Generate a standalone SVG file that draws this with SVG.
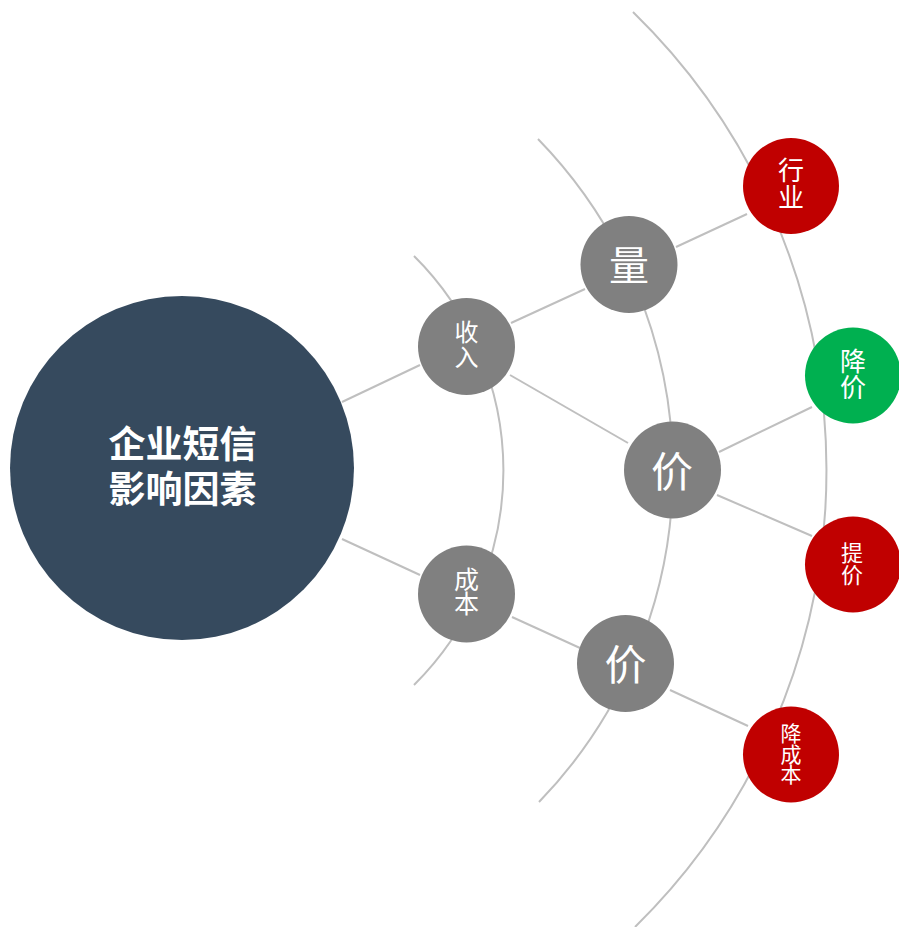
<svg xmlns="http://www.w3.org/2000/svg" width="899" height="927" viewBox="0 0 899 927">
<style>
.arc{fill:none;stroke:#BFBFBF;stroke-width:2}
.ln{stroke:#BFBFBF;stroke-width:2}
.g{fill:#808080}
.r{fill:#C00000}
.gr{fill:#00B050}
.t{fill:#FFFFFF;font-family:"Noto Sans CJK SC","Noto Sans",sans-serif;text-anchor:middle}
.title{fill:#FFFFFF;font-family:"Noto Sans CJK SC","Noto Sans",sans-serif;font-weight:bold;font-size:37px;text-anchor:middle}
</style>
<rect width="899" height="927" fill="#FFFFFF"/>
<g id="connectors">
<path class="arc" d="M414,256 A302,302 0 0 1 414,685"/>
<path class="arc" d="M538,139 A476,476 0 0 1 539,802"/>
<path class="arc" d="M633,12 A640,640 0 0 1 635,927"/>
<line class="ln" x1="342" y1="402" x2="420" y2="365"/>
<line class="ln" x1="342" y1="539" x2="420" y2="575"/>
<line class="ln" x1="511" y1="323" x2="585" y2="289"/>
<line class="ln" x1="510" y1="375" x2="628" y2="443"/>
<line class="ln" x1="512" y1="617" x2="580" y2="648"/>
<line class="ln" x1="676" y1="247" x2="747" y2="214"/>
<line class="ln" x1="719" y1="452" x2="812" y2="407"/>
<line class="ln" x1="717" y1="495" x2="812" y2="536"/>
<line class="ln" x1="670" y1="690" x2="748" y2="726"/>
</g>
<g id="main">
<circle cx="182" cy="468" r="172" fill="#364A5E"/>
<text class="title" x="182.5" y="457.5">企业短信</text>
<text class="title" x="182.5" y="502.5">影响因素</text>
</g>
<g id="shouru">
<circle class="g" cx="466.5" cy="346.5" r="48.5"/>
<text class="t" font-size="24"><tspan x="466.5" y="341">收</tspan><tspan x="466.5" y="366">入</tspan></text>
</g>
<g id="chengben">
<circle class="g" cx="466.5" cy="594" r="48.5"/>
<text class="t" font-size="25"><tspan x="466.5" y="588.5">成</tspan><tspan x="466.5" y="613">本</tspan></text>
</g>
<g id="liang">
<circle class="g" cx="629" cy="264.5" r="48.5"/>
<text class="t" font-size="40" x="629" y="280">量</text>
</g>
<g id="jia1">
<circle class="g" cx="672.5" cy="470" r="48.5"/>
<text class="t" font-size="42" x="672" y="487">价</text>
</g>
<g id="jia2">
<circle class="g" cx="625.5" cy="663.5" r="48.5"/>
<text class="t" font-size="42" x="625.5" y="680">价</text>
</g>
<g id="hangye">
<circle class="r" cx="791" cy="186" r="48"/>
<text class="t" font-size="26"><tspan x="791" y="180">行</tspan><tspan x="791" y="207">业</tspan></text>
</g>
<g id="jiangjia">
<circle class="gr" cx="853" cy="375.5" r="48"/>
<text class="t" font-size="26"><tspan x="853" y="370.5">降</tspan><tspan x="853" y="396.5">价</tspan></text>
</g>
<g id="tijia">
<circle class="r" cx="853" cy="564.5" r="48"/>
<text class="t" font-size="22"><tspan x="852" y="561">提</tspan><tspan x="852" y="582.5">价</tspan></text>
</g>
<g id="jiangchengben">
<circle class="r" cx="791" cy="754.5" r="48"/>
<text class="t" font-size="21"><tspan x="791" y="741">降</tspan><tspan x="791" y="762">成</tspan><tspan x="791" y="781.5">本</tspan></text>
</g>
</svg>
